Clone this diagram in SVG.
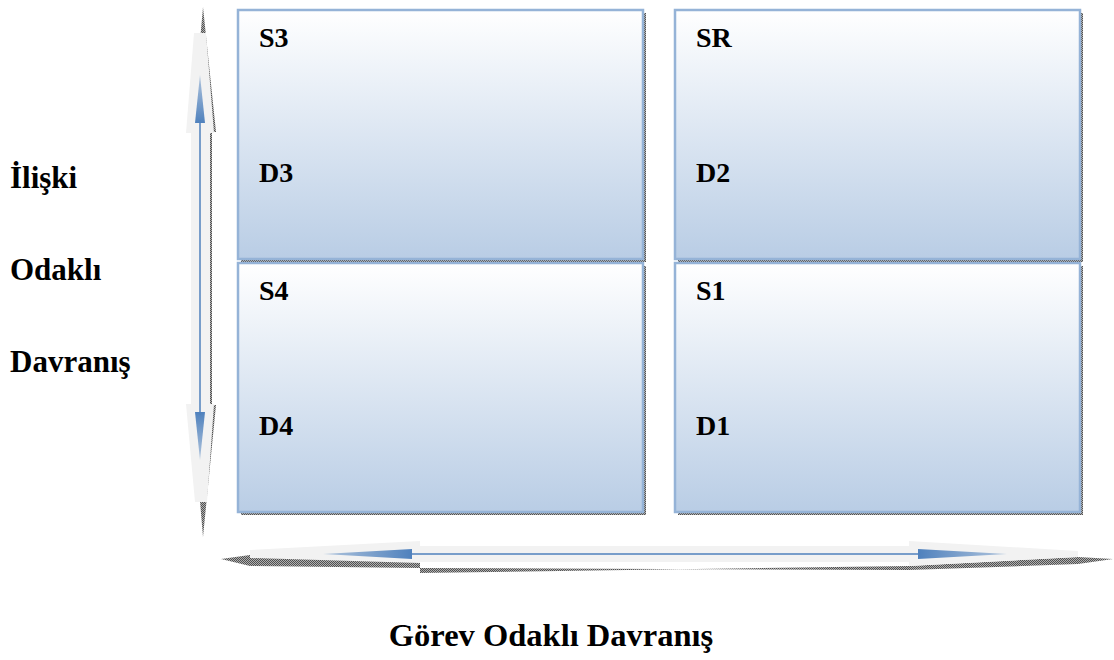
<svg xmlns="http://www.w3.org/2000/svg" width="1114" height="660" viewBox="0 0 1114 660">
<style>
.box{fill:url(#bg);stroke:#95b3d7;stroke-width:2.5}
.shd{fill:url(#dots)}
.lbl{font-family:"Liberation Serif","Times New Roman",serif;font-weight:bold;fill:#000}
.bl{font-size:28px}
.side{font-size:31px}
.axis{fill:#f2f2f2}
.line{stroke:#4f81bd;stroke-width:1.5;fill:none}
</style>
<defs>
<linearGradient id="bg" x1="0" y1="0" x2="0" y2="1">
<stop offset="0" stop-color="#ffffff"/>
<stop offset="1" stop-color="#b9cde5"/>
</linearGradient>
<pattern id="dots" width="2" height="2" patternUnits="userSpaceOnUse">
<rect width="2" height="2" fill="#b0b0b0"/>
<rect width="1" height="1" fill="#505050"/>
<rect x="1" y="1" width="1" height="1" fill="#505050"/>
</pattern>
<linearGradient id="hu" x1="0" y1="1" x2="0" y2="0">
<stop offset="0" stop-color="#4f81bd"/>
<stop offset="1" stop-color="#4f81bd" stop-opacity="0.4"/>
</linearGradient>
<linearGradient id="hd" x1="0" y1="0" x2="0" y2="1">
<stop offset="0" stop-color="#4f81bd"/>
<stop offset="1" stop-color="#4f81bd" stop-opacity="0.4"/>
</linearGradient>
<linearGradient id="hl" x1="1" y1="0" x2="0" y2="0">
<stop offset="0" stop-color="#4f81bd"/>
<stop offset="1" stop-color="#4f81bd" stop-opacity="0.4"/>
</linearGradient>
<linearGradient id="hr" x1="0" y1="0" x2="1" y2="0">
<stop offset="0" stop-color="#4f81bd"/>
<stop offset="1" stop-color="#4f81bd" stop-opacity="0.4"/>
</linearGradient>
</defs>

<g id="connectors">
<g id="vertical-axis">
<polygon class="shd" points="203,7 216,132 212,132 212,405 216,405 203,537 192,405 195,405 195,132 192,132"/>
<polygon class="axis" points="194,33 206,33 214,133 210,133 210,404 214,404 207,502 195,502 186,404 191,404 191,133 186,133"/>
<line class="line" x1="200" y1="120" x2="200" y2="415"/>
<polygon fill="url(#hu)" points="200,75 205,123 195,123"/>
<polygon fill="url(#hd)" points="200,460 205,412 195,412"/>
</g>
<g id="horizontal-axis">
<polygon class="shd" points="221,559 250,555 420,562 420,573 909,566 1078,557 1113,559 1078,564 909,570 420,568 250,566"/>
<polygon class="axis" points="250,550 420,541 420,546 909,546 909,541 1078,551 1078,557 909,566 909,562 420,562 420,563 250,558"/>
<line class="line" x1="410" y1="554" x2="920" y2="554"/>
<polygon fill="url(#hl)" points="323,554 412,549 412,559"/>
<polygon fill="url(#hr)" points="1007,554 918,549 918,559"/>
</g>
</g>

<g id="node-s3-d3">
<rect class="shd" x="241" y="13" width="405" height="249"/>
<rect class="box" x="238" y="10" width="405" height="249"/>
<text class="lbl bl" x="259" y="47">S3</text>
<text class="lbl bl" x="259" y="182">D3</text>
</g>
<g id="node-sr-d2">
<rect class="shd" x="678" y="13" width="405" height="249"/>
<rect class="box" x="675" y="10" width="405" height="249"/>
<text class="lbl bl" x="696" y="47">SR</text>
<text class="lbl bl" x="696" y="182">D2</text>
</g>
<g id="node-s4-d4">
<rect class="shd" x="241" y="266" width="405" height="249"/>
<rect class="box" x="238" y="263" width="405" height="249"/>
<text class="lbl bl" x="259" y="300">S4</text>
<text class="lbl bl" x="259" y="435">D4</text>
</g>
<g id="node-s1-d1">
<rect class="shd" x="678" y="266" width="405" height="249"/>
<rect class="box" x="675" y="263" width="405" height="249"/>
<text class="lbl bl" x="696" y="300">S1</text>
<text class="lbl bl" x="696" y="435">D1</text>
</g>

<g id="y-label">
<text class="lbl side" x="10" y="188">İlişki</text>
<text class="lbl side" x="10" y="280">Odaklı</text>
<text class="lbl side" x="10" y="372">Davranış</text>
</g>
<g id="x-label">
<text class="lbl" font-size="32.5" x="551" y="646" text-anchor="middle">Görev Odaklı Davranış</text>
</g>
</svg>
